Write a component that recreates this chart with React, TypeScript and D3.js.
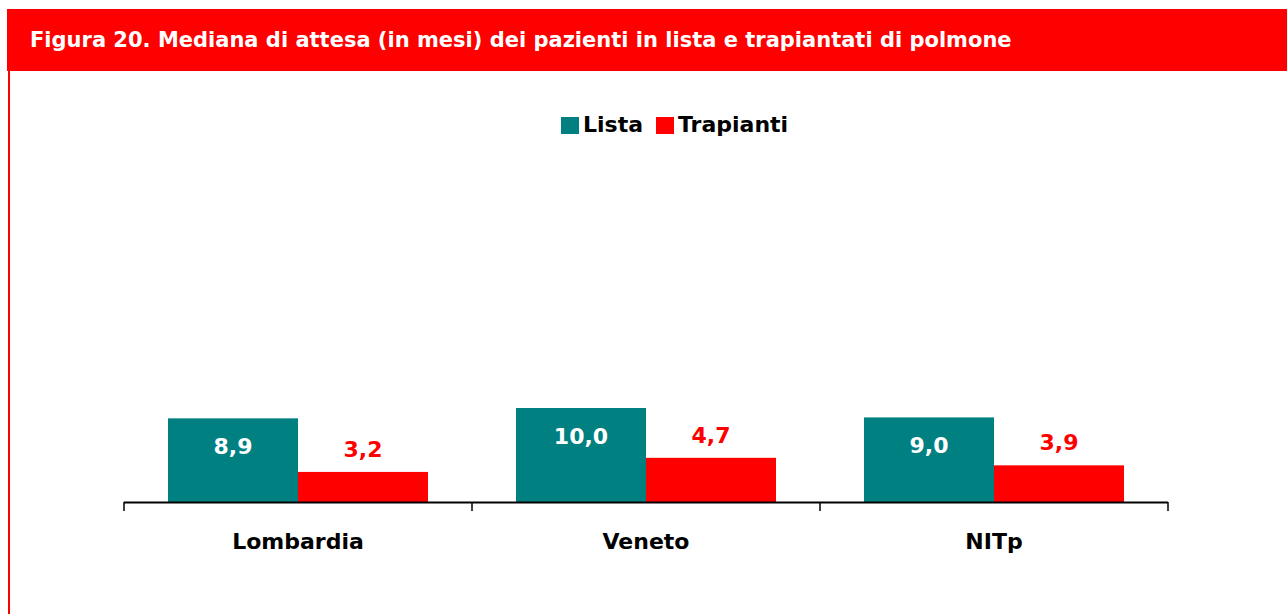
import React, { useEffect, useRef } from 'react';
import * as d3 from 'd3';

const categories = ['Lombardia', 'Veneto', 'NITp'];
const series = ['Lista', 'Trapianti'];
const lista = [8.9, 10.0, 9.0];
const trapianti = [3.2, 4.7, 3.9];
const colors = ['#008080', '#FF0000'];

const FONT = '"DejaVu Sans", Verdana, sans-serif';

function App() {
    const svgRef = useRef<SVGSVGElement>(null);

    useEffect(() => {
        const svg = d3.select(svgRef.current);
        svg.selectAll('*').remove();

        const width = 1287;
        const height = 614;
        const plot = { left: 124, right: 1168, top: 126, bottom: 502 };

        // frame + title bar
        svg.append('rect')
            .attr('x', 7).attr('y', 9)
            .attr('width', width - 7).attr('height', 62)
            .attr('fill', '#FF0000');
        svg.append('line')
            .attr('x1', 9).attr('x2', 9)
            .attr('y1', 70).attr('y2', height)
            .attr('stroke', '#FF0000').attr('stroke-width', 2);
        svg.append('text')
            .attr('x', 30).attr('y', 47)
            .style('font-family', FONT)
            .style('font-weight', 'bold')
            .style('font-size', '21px')
            .attr('fill', '#fff')
            .text('Figura 20. Mediana di attesa (in mesi) dei pazienti in lista e trapiantati di polmone');

        const x0 = d3.scaleBand().domain(categories).range([plot.left, plot.right]);
        const x1 = d3.scaleBand().domain(series).range([44, x0.bandwidth() - 44]);
        const y = d3.scaleLinear().domain([0, 40]).range([plot.bottom, plot.top]);

        const rows = categories.map((c, i) => ({ cat: c, vals: [lista[i], trapianti[i]] }));

        const g = svg.append('g');
        rows.forEach(r => {
            r.vals.forEach((v, j) => {
                const bx = x0(r.cat)! + x1(series[j])!;
                g.append('rect')
                    .attr('x', bx)
                    .attr('y', y(v))
                    .attr('width', x1.bandwidth())
                    .attr('height', y(0) - y(v))
                    .attr('fill', colors[j]);
                // value labels: white inside teal bar, red above red bar
                g.append('text')
                    .attr('x', bx + x1.bandwidth() / 2)
                    .attr('y', j === 0 ? y(v) + 36 : y(v) - 15)
                    .attr('text-anchor', 'middle')
                    .style('font-family', FONT)
                    .style('font-weight', 'bold')
                    .style('font-size', '22px')
                    .attr('fill', j === 0 ? '#fff' : '#FF0000')
                    .text(d3.format('.1f')(v).replace('.', ','));
            });
        });

        // X axis with ticks between categories
        const axis = svg.append('g');
        axis.append('line')
            .attr('x1', plot.left).attr('x2', plot.right)
            .attr('y1', plot.bottom + 0.5).attr('y2', plot.bottom + 0.5)
            .attr('stroke', '#000').attr('stroke-width', 2);
        const tickPos = categories.map(c => x0(c)!).concat([plot.right]);
        tickPos.forEach(t => {
            axis.append('line')
                .attr('x1', t).attr('x2', t)
                .attr('y1', plot.bottom).attr('y2', plot.bottom + 9)
                .attr('stroke', '#000').attr('stroke-width', 1.5);
        });
        categories.forEach(c => {
            axis.append('text')
                .attr('x', x0(c)! + x0.bandwidth() / 2)
                .attr('y', 549)
                .attr('text-anchor', 'middle')
                .style('font-family', FONT)
                .style('font-weight', 'bold')
                .style('font-size', '22px')
                .attr('fill', '#000')
                .text(c);
        });

        // legend
        const legend = svg.append('g');
        const legendX = [561, 656];
        series.forEach((s, i) => {
            legend.append('rect')
                .attr('x', legendX[i]).attr('y', 117)
                .attr('width', 18).attr('height', 17)
                .attr('fill', colors[i]);
            legend.append('text')
                .attr('x', legendX[i] + 22).attr('y', 132)
                .style('font-family', FONT)
                .style('font-weight', 'bold')
                .style('font-size', '22px')
                .attr('fill', '#000')
                .text(s);
        });
    }, []);

    return (
        <svg ref={svgRef} width={1287} height={614}
            style={{ position: 'absolute', left: 0, top: 0 }}></svg>
    );
}

export default App;
